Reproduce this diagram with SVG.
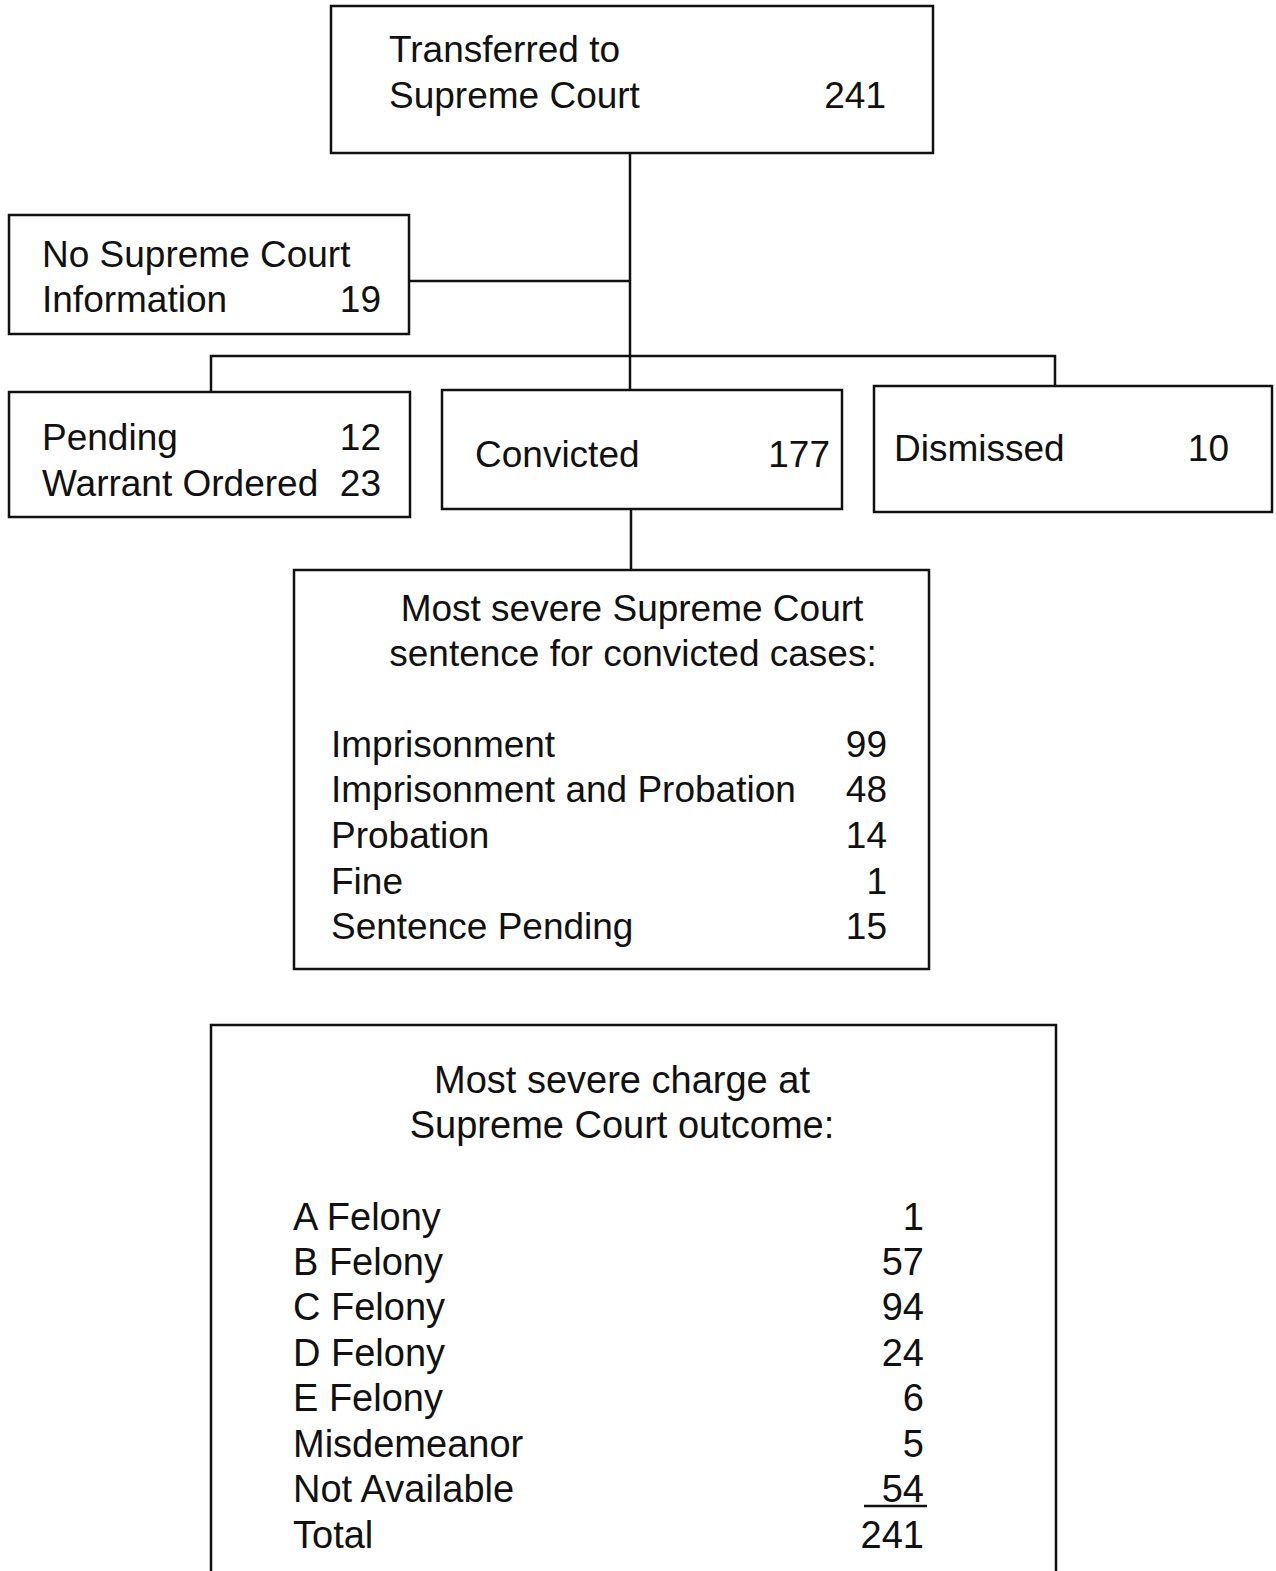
<svg xmlns="http://www.w3.org/2000/svg" width="1276" height="1571" viewBox="0 0 1276 1571">
<style>
.box{fill:#fff;stroke:#111;stroke-width:2.5}
.ln{fill:none;stroke:#111;stroke-width:2.5}
text{font-family:"Liberation Sans",Arial,sans-serif;font-size:37px;fill:#111}
.big{font-size:38px}
.r{text-anchor:end}
.c{text-anchor:middle}
</style>
<rect width="1276" height="1571" fill="#fff"/>
<g id="connectors">
<path class="ln" d="M630 153 V390"/>
<path class="ln" d="M409 281 H630"/>
<path class="ln" d="M211 392 V356 H1055 V386"/>
<path class="ln" d="M631 509 V570"/>
</g>
<g id="transferred">
<rect class="box" x="331" y="6" width="602" height="147"/>
<text x="389" y="62">Transferred to</text>
<text x="389" y="108">Supreme Court</text>
<text class="r" x="886" y="108">241</text>
</g>
<g id="no-info">
<rect class="box" x="9" y="215" width="400" height="119"/>
<text x="42" y="267">No Supreme Court</text>
<text x="42" y="312">Information</text>
<text class="r" x="381" y="312">19</text>
</g>
<g id="pending">
<rect class="box" x="9" y="392" width="401" height="125"/>
<text x="42" y="450">Pending</text>
<text class="r" x="381" y="450">12</text>
<text x="42" y="496">Warrant Ordered</text>
<text class="r" x="381" y="496">23</text>
</g>
<g id="convicted">
<rect class="box" x="442" y="390" width="400" height="119"/>
<text x="475" y="467">Convicted</text>
<text class="r" x="830" y="467">177</text>
</g>
<g id="dismissed">
<rect class="box" x="874" y="386" width="398" height="126"/>
<text x="894" y="461">Dismissed</text>
<text class="r" x="1229" y="461">10</text>
</g>
<g id="sentence">
<rect class="box" x="294" y="570" width="635" height="399"/>
<text class="c" x="632" y="621">Most severe Supreme Court</text>
<text class="c" x="633" y="666">sentence for convicted cases:</text>
<text x="331" y="757">Imprisonment</text><text class="r" x="887" y="757">99</text>
<text x="331" y="802">Imprisonment and Probation</text><text class="r" x="887" y="802">48</text>
<text x="331" y="848">Probation</text><text class="r" x="887" y="848">14</text>
<text x="331" y="894">Fine</text><text class="r" x="887" y="894">1</text>
<text x="331" y="939">Sentence Pending</text><text class="r" x="887" y="939">15</text>
</g>
<g id="charge">
<path class="box" d="M211 1575 V1025 H1056 V1575"/>
<text class="c big" x="622" y="1093">Most severe charge at</text>
<text class="c big" x="622" y="1138">Supreme Court outcome:</text>
<text class="big" x="293" y="1230">A Felony</text><text class="r big" x="924" y="1230">1</text>
<text class="big" x="293" y="1275">B Felony</text><text class="r big" x="924" y="1275">57</text>
<text class="big" x="293" y="1320">C Felony</text><text class="r big" x="924" y="1320">94</text>
<text class="big" x="293" y="1366">D Felony</text><text class="r big" x="924" y="1366">24</text>
<text class="big" x="293" y="1411">E Felony</text><text class="r big" x="924" y="1411">6</text>
<text class="big" x="293" y="1457">Misdemeanor</text><text class="r big" x="924" y="1457">5</text>
<text class="big" x="293" y="1502">Not Available</text><text class="r big" x="924" y="1502">54</text>
<path class="ln" d="M864 1506 H927"/>
<text class="big" x="293" y="1548">Total</text><text class="r big" x="924" y="1548">241</text>
</g>
</svg>
